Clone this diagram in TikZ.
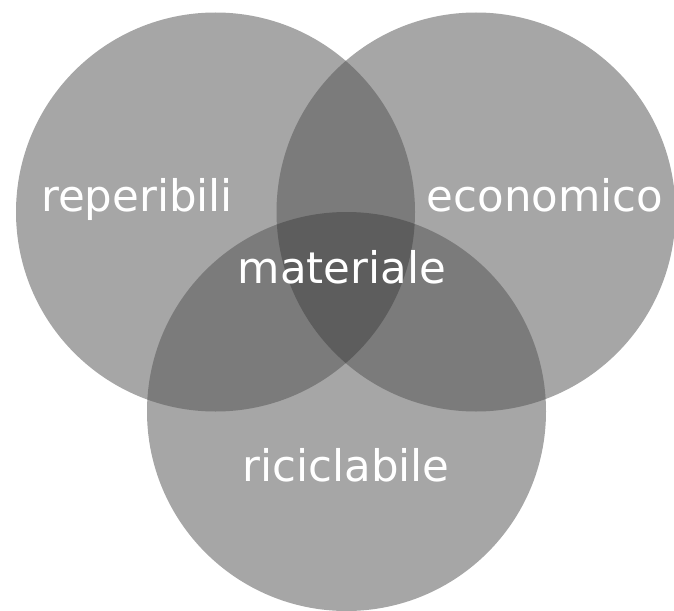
\documentclass[tikz,border=0pt]{standalone}
\usepackage{fontspec}
\setmainfont{DejaVu Sans}
\usepackage{xcolor}
\usepackage{tikz}
\definecolor{onegray}{RGB}{166,166,166}
\definecolor{twogray}{RGB}{123,123,123}
\definecolor{threegray}{RGB}{93,93,93}

\begin{document}
\begin{tikzpicture}[x=1pt,y=-1pt,setname/.style={text=white,font=\fontsize{43.5}{50}\selectfont,anchor=base,inner sep=0pt}]
    \useasboundingbox (0,0) rectangle (674,610);
    \def\rad{199.5}
    \coordinate (rep) at (215.5,212);
    \coordinate (eco) at (476,212);
    \coordinate (ric) at (346.5,411.5);
    \fill[onegray] (rep) circle (\rad) (eco) circle (\rad) (ric) circle (\rad);
    % overlaps of two
    \begin{scope}
      \clip (rep) circle (\rad);
      \fill[twogray] (eco) circle (\rad) (ric) circle (\rad);
    \end{scope}
    \begin{scope}
      \clip (eco) circle (\rad);
      \fill[twogray] (ric) circle (\rad);
    \end{scope}
    % overlap of all three
    \begin{scope}
      \clip (rep) circle (\rad);
      \clip (eco) circle (\rad);
      \fill[threegray] (ric) circle (\rad);
    \end{scope}
    \node[setname] (reperibili) at (137,211) {reperibili};
    \node[setname] (economico) at (545,211) {economico};
    \node[setname] (materiale) at (342,283) {materiale};
    \node[setname] (riciclabile) at (346,481) {riciclabile};
  \end{tikzpicture}
\end{document}
